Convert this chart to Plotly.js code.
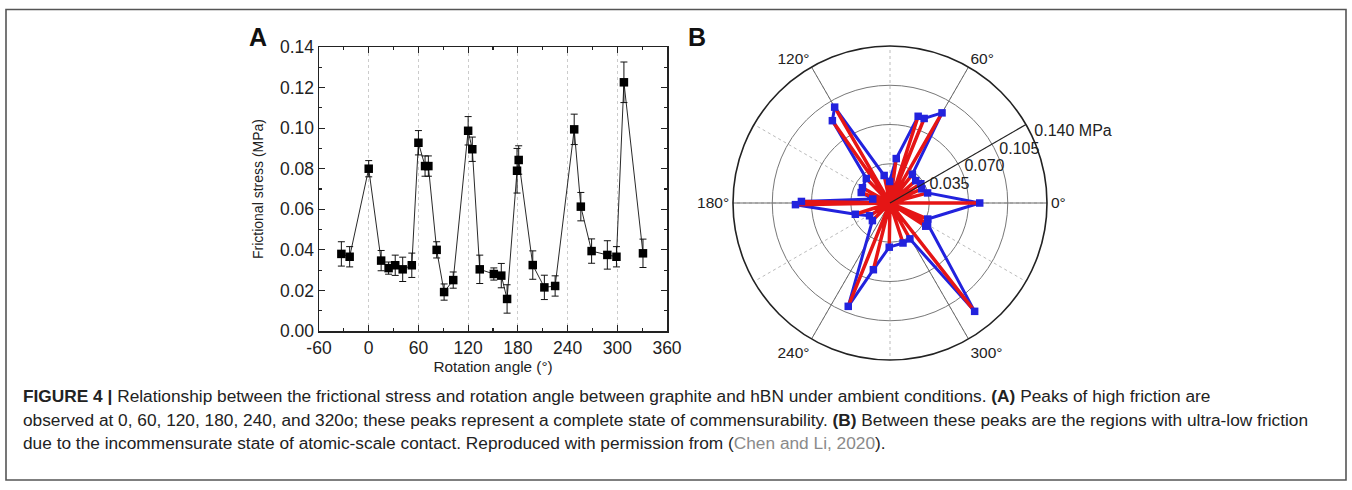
<!DOCTYPE html>
<html>
<head>
<meta charset="utf-8">
<script src="https://cdn.plot.ly/plotly-3.0.1.min.js"></script>
<style>
  html, body { margin: 0; padding: 0; background: #fff; }
  #chart { width: 1352px; height: 490px; }
</style>
</head>
<body>
<div id="chart"></div>
<script>
// ---- data ----
const angles = [-33, -23, 0, 15, 24, 32, 41, 52, 60, 68, 72, 82, 91, 102, 120, 125, 134, 151, 160, 167, 179, 181, 198, 212, 225, 248, 256, 269, 288, 299, 308, 331];
const stress = [0.038, 0.0366, 0.080, 0.0347, 0.031, 0.0324, 0.0304, 0.0324, 0.0928, 0.0813, 0.0813, 0.040, 0.0192, 0.0251, 0.0987, 0.0896, 0.0304, 0.0281, 0.0273, 0.0158, 0.079, 0.0843, 0.0325, 0.0215, 0.0222, 0.0994, 0.0613, 0.0394, 0.0375, 0.0366, 0.1226, 0.0383];
const stressErr = [0.006, 0.005, 0.004, 0.005, 0.003, 0.005, 0.006, 0.006, 0.006, 0.005, 0.005, 0.004, 0.004, 0.004, 0.007, 0.006, 0.007, 0.003, 0.006, 0.007, 0.011, 0.007, 0.007, 0.006, 0.005, 0.0075, 0.007, 0.006, 0.007, 0.005, 0.010, 0.007];

const xTicks = [-60, 0, 60, 120, 180, 240, 300, 360];
const yTicks = [0, 0.02, 0.04, 0.06, 0.08, 0.10, 0.12, 0.14];
const polarAngleTicks = [0, 30, 60, 90, 120, 150, 180, 210, 240, 270, 300, 330];
const polarAngleLabels = ['0°', '', '60°', '', '120°', '', '180°', '', '240°', '', '300°', ''];
const solidSpokes = [0, 60, 120, 180, 240, 300];
const radialTicks = [0.035, 0.070, 0.105, 0.140];
const radialLabels = ['0.035', '0.070', '0.105', '0.140 MPa'];
const radialAxisAngle = 30;

const captionLines = [
  '<b>FIGURE 4 |</b> Relationship between the frictional stress and rotation angle between graphite and hBN under ambient conditions. <b>(A)</b> Peaks of high friction are',
  'observed at 0, 60, 120, 180, 240, and 320o; these peaks represent a complete state of commensurability. <b>(B)</b> Between these peaks are the regions with ultra-low friction',
  'due to the incommensurate state of atomic-scale contact. Reproduced with permission from (<span style="color:#8a8a8a">Chen and Li, 2020</span>).'
];

// ---- geometry ----
const W = 1352, H = 490;
const px = v => v / W;
const py = v => 1 - v / H;
const FONT = 'Liberation Sans, Arial, Helvetica, sans-serif';

// red spokes from origin to each point
const spokeR = [], spokeT = [];
angles.forEach((a, i) => { spokeR.push(0, stress[i]); spokeT.push(a, a); });
// solid grid spokes
const gridR = [], gridT = [];
solidSpokes.forEach(a => { gridR.push(0, radialTicks[radialTicks.length - 1], null); gridT.push(a, a, null); });

const traces = [
  {
    type: 'scatter', x: angles, y: stress, xaxis: 'x', yaxis: 'y',
    mode: 'lines+markers',
    line: { color: '#111', width: 0.9 },
    marker: { symbol: 'square', size: 8.5, color: '#000' },
    error_y: { type: 'data', array: stressErr, visible: true, color: '#111', thickness: 1, width: 3.5 },
    hoverinfo: 'x+y'
  },
  {
    type: 'scatterpolar', r: gridR, theta: gridT, mode: 'lines',
    line: { color: '#6a6a6a', width: 1 }, hoverinfo: 'skip', connectgaps: false
  },
  {
    type: 'scatterpolar', r: stress, theta: angles, mode: 'lines',
    line: { color: '#2222dd', width: 3 }, hoverinfo: 'skip'
  },
  {
    type: 'scatterpolar', r: spokeR, theta: spokeT, mode: 'lines',
    line: { color: '#e51515', width: 3.5 }, hoverinfo: 'skip'
  },
  {
    type: 'scatterpolar', r: stress, theta: angles, mode: 'markers',
    marker: { symbol: 'square', size: 7.5, color: '#2222dd' }
  },
  {
    type: 'scatterpolar', r: radialTicks, theta: radialTicks.map(() => radialAxisAngle - 3),
    mode: 'text', text: radialLabels.map(s => '\u00a0' + s), textposition: 'middle right',
    textfont: { family: FONT, size: 16, color: '#222' }, hoverinfo: 'skip', cliponaxis: false
  }
];

const annotations = [
  { text: '<b>A</b>', x: px(258), y: py(37), xref: 'paper', yref: 'paper', showarrow: false,
    font: { family: FONT, size: 25, color: '#111' }, xanchor: 'center', yanchor: 'middle' },
  { text: '<b>B</b>', x: px(697), y: py(37), xref: 'paper', yref: 'paper', showarrow: false,
    font: { family: FONT, size: 25, color: '#111' }, xanchor: 'center', yanchor: 'middle' }
];
const capY = [396, 420, 443];
captionLines.forEach((t, i) => {
  annotations.push({ text: t, x: px(21), y: py(capY[i]), xref: 'paper', yref: 'paper', showarrow: false,
    font: { family: FONT, size: 17.3, color: '#222' }, xanchor: 'left', yanchor: 'middle', align: 'left' });
});

const layout = {
  width: W, height: H,
  margin: { l: 0, r: 0, t: 0, b: 0 },
  paper_bgcolor: '#fff', plot_bgcolor: '#fff',
  showlegend: false,
  font: { family: FONT, color: '#222' },
  xaxis: {
    domain: [px(319), px(667)], anchor: 'y',
    range: [-60, 360], tickvals: xTicks, ticktext: xTicks.map(String),
    ticks: 'inside', ticklen: 6, tickwidth: 1.2, tickcolor: '#222',
    minor: { dtick: 30, tick0: -60, ticks: 'inside', ticklen: 3, tickcolor: '#222', showgrid: false },
    showline: true, linecolor: '#222', linewidth: 1.5, mirror: 'ticks',
    showgrid: true, gridcolor: '#cccccc', griddash: 'dot', gridwidth: 1,
    zeroline: false,
    tickfont: { family: FONT, size: 17.5, color: '#222' },
    title: { text: 'Rotation angle (°)', font: { family: FONT, size: 15.3, color: '#222' }, standoff: 5 }
  },
  yaxis: {
    domain: [py(331), py(47)], anchor: 'x',
    range: [0, 0.14], tickvals: yTicks, tickformat: '.2f',
    ticks: 'inside', ticklen: 6, tickwidth: 1.2, tickcolor: '#222',
    minor: { dtick: 0.01, ticks: 'inside', ticklen: 3, tickcolor: '#222', showgrid: false },
    showline: true, linecolor: '#222', linewidth: 1.5, mirror: 'ticks',
    showgrid: false, zeroline: false,
    tickfont: { family: FONT, size: 17.5, color: '#222' },
    title: { text: 'Frictional stress (MPa)', font: { family: FONT, size: 14, color: '#222' }, standoff: 13 }
  },
  polar: {
    domain: { x: [px(733), px(1047)], y: [py(360), py(46)] },
    bgcolor: '#fff',
    angularaxis: {
      rotation: 0, direction: 'counterclockwise',
      tickvals: polarAngleTicks, ticktext: polarAngleLabels,
      ticks: '', showline: true, linecolor: '#222', linewidth: 1.6,
      showgrid: true, gridcolor: '#bbbbbb', griddash: 'dot', gridwidth: 1,
      tickfont: { family: FONT, size: 15.5, color: '#222' }
    },
    radialaxis: {
      range: [0, 0.14], tickvals: radialTicks, showticklabels: false,
      angle: radialAxisAngle,
      showline: true, linecolor: '#222', linewidth: 1.2,
      ticks: '', showgrid: true, gridcolor: '#777', gridwidth: 1
    }
  },
  annotations: annotations,
  shapes: [
    { type: 'rect', xref: 'paper', yref: 'paper', x0: px(6), x1: px(1346), y0: py(480), y1: py(9.5),
      line: { color: '#555', width: 1.6 }, fillcolor: 'rgba(0,0,0,0)' }
  ]
};

Plotly.newPlot('chart', traces, layout, { displayModeBar: false, staticPlot: true });
</script>
</body>
</html>
